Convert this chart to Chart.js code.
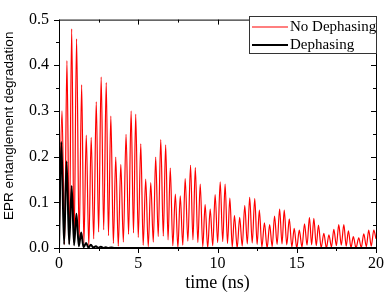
<!DOCTYPE html>
<html>
<head>
<meta charset="utf-8">
<script src="https://cdn.jsdelivr.net/npm/chart.js@4.4.1/dist/chart.umd.min.js"></script>
<style>
    html, body { margin: 0; padding: 0; background: #fff; }
    #wrap { width: 390px; height: 294px; }
</style>
</head>
<body>
<div id="wrap"><canvas id="chartEPR"></canvas></div>
<script>
// No Dephasing (red) - peaks and troughs
var noDephTime = [0, 0.19, 0.35, 0.50, 0.65, 0.80, 0.95, 1.11, 1.27, 1.43, 1.57, 1.72, 1.88, 2.03, 2.19, 2.35, 2.50, 2.66, 2.82, 2.98,
    3.12, 3.27, 3.43, 3.58, 3.74, 3.90, 4.06, 4.23, 4.39, 4.55, 4.70, 4.84, 5.00, 5.16, 5.31, 5.47, 5.63, 5.79, 5.95, 6.10,
    6.26, 6.42, 6.58, 6.73, 6.88, 7.02, 7.18, 7.34, 7.50, 7.65, 7.81, 7.96, 8.13, 8.30, 8.45, 8.60, 8.76, 8.91, 9.07, 9.22,
    9.38, 9.54, 9.70, 9.85, 10.01, 10.17, 10.33, 10.48, 10.63, 10.78, 10.93, 11.07, 11.24, 11.40, 11.56, 11.72, 11.88, 12.03, 12.19, 12.35,
    12.50, 12.64, 12.80, 12.96, 13.13, 13.29, 13.45, 13.60, 13.76, 13.92, 14.07, 14.21, 14.37, 14.53, 14.69, 14.84, 15.00, 15.16, 15.33, 15.49,
    15.65, 15.80, 15.94, 16.08, 16.23, 16.37, 16.54, 16.71, 16.87, 17.03, 17.19, 17.34, 17.50, 17.65, 17.81, 17.97, 18.12, 18.26, 18.42, 18.57,
    18.74, 18.91, 19.07, 19.23, 19.39, 19.54, 19.70, 19.86, 20.0];
var noDephValue = [0, 0.300, 0.008, 0.410, 0.010, 0.480, 0.012, 0.458, 0.015, 0.357, 0.010, 0.247, 0.005, 0.242, 0.020, 0.320, 0.035, 0.374, 0.040, 0.362,
    0.027, 0.289, 0.010, 0.199, 0.004, 0.183, 0.013, 0.249, 0.030, 0.300, 0.033, 0.293, 0.023, 0.228, 0.006, 0.151, 0.003, 0.143, 0.013, 0.199,
    0.025, 0.2375, 0.026, 0.226, 0.018, 0.175, 0.005, 0.118, 0.001, 0.114, 0.006, 0.152, 0.015, 0.181, 0.018, 0.176, 0.012, 0.140, 0.003, 0.095,
    0.000, 0.085, 0.005, 0.117, 0.012, 0.145, 0.014, 0.140, 0.010, 0.109, 0.002, 0.071, 0.000, 0.067, 0.004, 0.093, 0.009, 0.111, 0.011, 0.108,
    0.008, 0.083, 0.002, 0.055, 0.000, 0.051, 0.003, 0.070, 0.008, 0.085, 0.009, 0.083, 0.007, 0.064, 0.002, 0.043, 0.000, 0.039, 0.002, 0.053,
    0.006, 0.067, 0.007, 0.065, 0.005, 0.050, 0.001, 0.032, 0.000, 0.029, 0.002, 0.041, 0.005, 0.051, 0.006, 0.051, 0.004, 0.0375, 0.001, 0.025,
    0.000, 0.022, 0.001, 0.031, 0.003, 0.039, 0.004, 0.039, 0.020];

// Dephasing (black)
var dephTime = [0, 0.15, 0.32, 0.48, 0.64, 0.80, 0.95, 1.10, 1.25, 1.40, 1.55, 1.71, 1.86, 2.01, 2.17, 2.33, 2.48, 2.64, 2.80, 2.95, 3.10, 3.30, 3.50, 20.0];
var dephValue = [0, 0.232, 0.008, 0.190, 0.008, 0.136, 0.006, 0.075, 0.004, 0.034, 0.002, 0.011, 0.001, 0.007, 0.001, 0.004, 0.000, 0.003, 0.000, 0.0015, 0.000, 0.001, 0.000, 0.000];

var seriesLabels = ['No Dephasing', 'Dephasing'];
var xTickValues = [0, 5, 10, 15, 20];
var yTickValues = [0.0, 0.1, 0.2, 0.3, 0.4, 0.5];
var yTitle = 'EPR entanglement degradation';

function toPoints(xs, ys) {
    var pts = [];
    for (var i = 0; i < xs.length; i++) {
        pts.push({ x: xs[i], y: ys[i] });
    }
    return pts;
}

// frame + tick marks (out on left/bottom, in on top/right), y title and the boxed legend
var framePlugin = {
    id: 'framePlugin',
    afterDraw: function (chart) {
        var ctx = chart.ctx;
        var a = chart.chartArea;
        var xs = chart.scales.x;
        var ys = chart.scales.y;
        ctx.save();
        ctx.strokeStyle = '#000';
        ctx.lineWidth = 1;
        ctx.strokeRect(a.left + 0.5, a.top + 0.5, a.right - a.left, a.bottom - a.top);

        ctx.beginPath();
        for (var i = 0; i < xTickValues.length; i++) {
            var px = Math.round(xs.getPixelForValue(xTickValues[i])) + 0.5;
            ctx.moveTo(px, a.bottom); ctx.lineTo(px, a.bottom + 5);
            ctx.moveTo(px, a.top); ctx.lineTo(px, a.top + 5);
            if (i < xTickValues.length - 1) {
                var mx = Math.round(xs.getPixelForValue((xTickValues[i] + xTickValues[i + 1]) / 2)) + 0.5;
                ctx.moveTo(mx, a.bottom); ctx.lineTo(mx, a.bottom + 3);
                ctx.moveTo(mx, a.top); ctx.lineTo(mx, a.top + 3);
            }
        }
        for (var j = 0; j < yTickValues.length; j++) {
            var py = Math.round(ys.getPixelForValue(yTickValues[j])) + 0.5;
            ctx.moveTo(a.left, py); ctx.lineTo(a.left - 5, py);
            ctx.moveTo(a.right, py); ctx.lineTo(a.right - 5, py);
            if (j < yTickValues.length - 1) {
                var my = Math.round(ys.getPixelForValue((yTickValues[j] + yTickValues[j + 1]) / 2)) + 0.5;
                ctx.moveTo(a.left, my); ctx.lineTo(a.left - 3, my);
                ctx.moveTo(a.right, my); ctx.lineTo(a.right - 3, my);
            }
        }
        ctx.stroke();

        // y title, sits a bit above the plot centre in the original
        ctx.save();
        ctx.translate(9, (a.top + a.bottom) / 2 - 8);
        ctx.rotate(-Math.PI / 2);
        ctx.font = '13.5px "Liberation Sans"';
        ctx.fillStyle = '#000';
        ctx.textAlign = 'center';
        ctx.textBaseline = 'middle';
        ctx.fillText(yTitle, 0, 0);
        ctx.restore();

        // legend box
        var bx = 249, by = 16, bw = 127, bh = 37;
        ctx.fillStyle = '#fff';
        ctx.fillRect(bx, by, bw, bh);
        ctx.strokeStyle = '#333';
        ctx.lineWidth = 1;
        ctx.strokeRect(bx + 0.5, by + 0.5, bw, bh);
        ctx.font = '15px "Liberation Serif"';
        ctx.textBaseline = 'middle';
        var ds = chart.data.datasets;
        for (var k = 0; k < ds.length; k++) {
            var ry = by + 11 + k * 18;
            ctx.strokeStyle = ds[k].borderColor;
            ctx.lineWidth = ds[k].borderWidth;
            ctx.beginPath();
            ctx.moveTo(bx + 3, ry);
            ctx.lineTo(bx + 39, ry);
            ctx.stroke();
            ctx.fillStyle = '#000';
            ctx.fillText(ds[k].label, bx + 41, ry);
        }
        ctx.restore();
    }
};

var ctx1 = document.getElementById('chartEPR').getContext('2d');
var chart1 = new Chart(ctx1, {
    type: 'line',
    data: {
        datasets: [{
            label: seriesLabels[0],
            data: toPoints(noDephTime, noDephValue),
            borderColor: '#ff0000',
            borderWidth: 1.2,
            pointRadius: 0,
            cubicInterpolationMode: 'monotone',
            order: 1
        }, {
            label: seriesLabels[1],
            data: toPoints(dephTime, dephValue),
            borderColor: '#000000',
            borderWidth: 2,
            pointRadius: 0,
            cubicInterpolationMode: 'monotone',
            order: 0
        }]
    },
    options: {
        responsive: true,
        maintainAspectRatio: false,
        animation: false,
        layout: {
            padding: { top: 8, right: 12, left: 18, bottom: 0 }
        },
        plugins: {
            legend: { display: false },
            tooltip: { enabled: false }
        },
        scales: {
            x: {
                type: 'linear',
                min: 0,
                max: 20,
                afterBuildTicks: function (scale) {
                    scale.ticks = xTickValues.map(function (v) { return { value: v }; });
                },
                afterFit: function (scale) { scale.height = 46; },
                ticks: {
                    color: '#000',
                    padding: 6,
                    maxRotation: 0,
                    font: { family: 'Liberation Serif', size: 16 }
                },
                grid: { display: false, drawTicks: false },
                border: { display: false },
                title: {
                    display: true,
                    text: 'time (ns)',
                    color: '#000',
                    padding: 0,
                    font: { family: 'Liberation Serif', size: 18 }
                }
            },
            y: {
                min: 0,
                max: 0.5,
                afterBuildTicks: function (scale) {
                    scale.ticks = yTickValues.map(function (v) { return { value: v }; });
                },
                afterFit: function (scale) { scale.width = 41; },
                ticks: {
                    color: '#000',
                    padding: 10,
                    font: { family: 'Liberation Serif', size: 16 },
                    callback: function (v) { return v.toFixed(1); }
                },
                grid: { display: false, drawTicks: false },
                border: { display: false }
            }
        }
    },
    plugins: [framePlugin]
});
</script>
</body>
</html>
